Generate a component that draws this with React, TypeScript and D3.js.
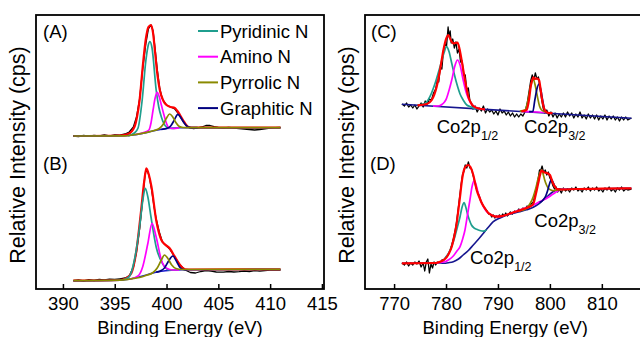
import { useEffect, useRef } from "react"
import * as d3 from "d3"

type Pt = [number, number]

// ---- N 1s panels (binding energy in eV, relative intensity in a.u.) ----
const nTicks = [390, 395, 400, 405, 410, 415]
const coTicks = [770, 780, 790, 800, 810]

const legendNames = ["Pyridinic N", "Amino N", "Pyrrolic N", "Graphitic N"]

// panel A
const aRaw: Pt[] = [
  [391, 153], [391.5, 152.5], [392, 153.5], [392.5, 152.8], [393, 153.6], [393.5, 153], [394, 154], [394.5, 153.2],
  [395, 154.2], [395.5, 153.8], [396, 155], [396.4, 157], [396.8, 162], [397.1, 172], [397.4, 190], [397.7, 220],
  [398.0, 245], [398.25, 260], [398.5, 264], [398.7, 258], [398.9, 240], [399.1, 220], [399.35, 200], [399.6, 190],
  [400.0, 184], [400.4, 182], [400.8, 180], [401.1, 176], [401.4, 171], [401.8, 165], [402.2, 161.5], [402.6, 160.5],
  [403.0, 161], [403.4, 162], [403.8, 163.5], [404.2, 163.5], [404.6, 162.3], [405.0, 161.5], [405.5, 161], [406, 161.5],
  [406.5, 161], [407, 160.5], [407.5, 160], [408, 159.5], [408.5, 159], [409, 159.5], [409.5, 160.2], [410, 161],
  [410.5, 161.3], [411, 161.5],
]
const aFit: Pt[] = [
  [391, 153], [395.5, 153.5], [396.3, 155], [396.9, 162], [397.15, 172], [397.4, 189], [397.7, 222], [398.0, 250],
  [398.25, 262], [398.5, 264], [398.7, 256], [398.9, 236], [399.1, 216], [399.35, 199], [399.7, 188], [400.0, 184],
  [400.4, 182], [400.8, 181], [401.05, 178], [401.3, 174], [401.7, 167], [402.1, 162], [402.6, 161.3], [411, 161.3],
]
const aPyridinic: Pt[] = [
  [396.3, 153.2], [396.9, 156], [397.25, 161], [397.65, 189], [398.0, 228], [398.2, 242], [398.4, 247.3], [398.6, 241],
  [399.0, 199], [399.25, 182], [399.5, 172], [400.0, 162], [400.5, 160.5], [401, 161],
]
const aAmino: Pt[] = [
  [397.0, 154.5], [397.8, 156.5], [398.3, 159], [398.5, 166], [398.7, 179], [398.9, 191], [399.1, 196.7], [399.3, 192],
  [399.5, 184], [399.7, 176], [399.95, 167], [400.2, 161.5], [400.6, 160.5], [401.2, 161],
]
const aPyrrolic: Pt[] = [
  [391, 153], [396.0, 153.2], [396.7, 154], [397.5, 155.3], [398.2, 156.8], [398.8, 158.5], [399.3, 160.5], [399.7, 165],
  [400.0, 171], [400.3, 175], [400.6, 172], [400.9, 166.5], [401.2, 162.8], [401.6, 161.5], [402.2, 161.3], [411, 161.3],
]
const aGraphitic: Pt[] = [
  [399.5, 159.5], [400.0, 160.5], [400.4, 163], [400.7, 168], [401.1, 174.7], [401.4, 171], [401.7, 166], [402.0, 162.5],
  [402.4, 161.3], [403, 161.3],
]
const aBackground: Pt[] = [
  [391, 153], [396, 153.2], [397, 154.3], [398, 156.3], [399, 158.8], [400, 160.5], [401, 161.1], [402, 161.3], [411, 161.3],
]

// panel B
const bRaw: Pt[] = [
  [391, 8.3], [391.5, 9], [392, 8], [392.5, 9.3], [393, 8.5], [393.5, 9.5], [394, 9], [394.5, 9.8], [395, 9.5],
  [395.5, 10.2], [396, 11], [396.4, 13], [396.8, 22], [397.1, 37], [397.4, 60], [397.7, 90], [397.9, 112], [398.05, 120],
  [398.3, 114], [398.55, 100], [398.8, 82], [399.0, 70], [399.3, 57], [399.6, 47], [399.9, 44], [400.3, 40], [400.8, 32],
  [401.3, 24], [401.8, 19], [402.3, 16.5], [402.8, 16], [403.3, 17.5], [403.8, 18.5], [404.3, 17.8], [404.8, 17],
  [405.5, 16.8], [406, 17.5], [406.5, 17], [407, 17.3], [407.5, 18], [408, 17.5], [408.5, 18.3], [409, 17.8],
  [409.5, 18.5], [410, 18.8], [410.5, 19], [411, 19],
]
const bFit: Pt[] = [
  [391, 8.3], [395.5, 9], [396.1, 10.7], [396.6, 15.7], [397.1, 39], [397.55, 79], [397.85, 108], [398.05, 120.7],
  [398.3, 114], [398.55, 102], [399.0, 69], [399.5, 49], [399.8, 45], [400.3, 40.7], [400.8, 32.3], [401.3, 24],
  [401.8, 19.7], [402.5, 19.5], [411, 19.7],
]
const bPyridinic: Pt[] = [
  [395.8, 9.2], [396.4, 12.3], [396.9, 29], [397.4, 62], [397.7, 88], [397.95, 100.7], [398.2, 92], [398.5, 72],
  [399.0, 42], [399.6, 25.7], [400.3, 19], [401, 19],
]
const bAmino: Pt[] = [
  [396.5, 10], [397.25, 13], [397.7, 22.3], [398.2, 45.7], [398.6, 65.7], [399.0, 52], [399.5, 29], [400.0, 20.7],
  [400.6, 19], [401.2, 19.2],
]
const bPyrrolic: Pt[] = [
  [391, 8.3], [395.5, 8.8], [396.5, 10], [397.4, 11.5], [398.0, 13.5], [398.7, 16.5], [399.1, 21], [399.5, 29],
  [399.8, 34], [400.1, 31], [400.5, 24], [400.9, 20.5], [401.5, 19.5], [411, 19.7],
]
const bGraphitic: Pt[] = [
  [399.0, 16.8], [399.4, 18], [399.8, 21], [400.2, 28], [400.6, 33], [401.0, 27], [401.3, 21.5], [401.6, 19.5], [402, 19.2],
]
const bBackground: Pt[] = [
  [391, 8.3], [395.5, 8.8], [396.5, 10], [397.5, 12.5], [398.5, 15.5], [399.5, 17.8], [400.5, 18.8], [401.5, 19.2], [411, 19.5],
]

// ---- Co 2p panels ----
// panel C
const cRaw: Pt[] = [
  [771.5, 185], [772.0, 183], [772.4, 186], [772.8, 182], [773.2, 184], [773.6, 181], [774.0, 184], [774.4, 180],
  [774.8, 183], [775.2, 186], [775.6, 182], [776.0, 188], [776.4, 185], [776.8, 190], [777.2, 189], [777.6, 196],
  [778.0, 200], [778.3, 208], [778.6, 207], [778.9, 222], [779.2, 220], [779.5, 238], [779.8, 245], [780.1, 243],
  [780.4, 262], [780.6, 252], [780.8, 258], [781.0, 246], [781.3, 250], [781.6, 241], [781.9, 247], [782.2, 236],
  [782.5, 240], [782.8, 227], [783.1, 228], [783.4, 214], [783.7, 214], [784.0, 199], [784.3, 201], [784.6, 188],
  [784.9, 186], [785.2, 180], [785.6, 183], [786.0, 177], [786.4, 181], [786.8, 178], [787.2, 183], [787.6, 176],
  [788.0, 180], [788.4, 177], [788.8, 179], [789.2, 175], [789.6, 178], [790.0, 174], [790.4, 180], [790.8, 176],
  [791.2, 178], [791.6, 174], [792.0, 177], [792.4, 173], [792.8, 176], [793.2, 172], [793.6, 175], [794.0, 172],
  [794.4, 175], [794.8, 173], [795.2, 177], [795.6, 185], [796.0, 198], [796.3, 208], [796.6, 214], [796.9, 209],
  [797.2, 216], [797.5, 210], [797.8, 212], [798.1, 200], [798.4, 190], [798.7, 181], [799.0, 176], [799.4, 179],
  [799.8, 173], [800.2, 177], [800.6, 172], [801.0, 176], [801.4, 171], [801.8, 175], [802.2, 172], [802.6, 176],
  [803.0, 172], [803.4, 177], [803.8, 173], [804.2, 176], [804.6, 171], [805.0, 175], [805.4, 172], [805.8, 177],
  [806.2, 171], [806.6, 174], [807.0, 170], [807.4, 175], [807.8, 171], [808.2, 174], [808.6, 170], [809.0, 174],
  [809.4, 169], [809.8, 173], [810.2, 170], [810.6, 174], [811.0, 169], [811.4, 173], [811.8, 170], [812.2, 173],
  [812.6, 169], [813.0, 172], [813.4, 168], [813.8, 172], [814.2, 169], [814.6, 172], [815.0, 169], [815.7, 171],
]
const cFit1: Pt[] = [
  [774.5, 183.7], [776.3, 185], [777.25, 189], [778.2, 202.3], [778.85, 219], [779.5, 239], [780.0, 250], [780.45, 254],
  [780.9, 249], [781.4, 245.7], [781.8, 246], [782.2, 246.3], [782.6, 240], [783.0, 229], [783.65, 209], [784.3, 192.3],
  [784.8, 186], [785.25, 183], [786.3, 180.5], [787.5, 179.7],
]
const cFit2: Pt[] = [
  [794.5, 177.6], [795.5, 179], [796.0, 190], [796.3, 202.3], [796.6, 209], [796.8, 211.7], [797.1, 210], [797.4, 210.7],
  [797.9, 209], [798.2, 200], [798.4, 192.3], [798.7, 184], [799.0, 179], [799.6, 176.2], [800.5, 175.8],
]
const cPeakTeal: Pt[] = [
  [774.5, 183.7], [776.0, 185.7], [776.9, 192.3], [777.9, 205.7], [778.85, 222.3], [779.6, 236], [780.1, 242.3],
  [780.6, 237], [781.1, 225.7], [782.05, 205.7], [782.7, 195], [783.3, 189], [784.0, 184], [784.6, 182.5],
  [785.5, 180.7], [786.5, 180.3],
]
const cPeakMagenta: Pt[] = [
  [777.5, 182.8], [778.5, 183], [779.2, 184.5], [779.7, 187], [780.1, 190.7], [780.6, 199], [781.1, 209], [781.7, 223],
  [782.2, 229], [782.7, 224], [783.3, 209], [783.8, 198], [784.3, 190.7], [784.9, 185], [785.6, 181.7], [786.5, 180.2],
  [787.5, 179.7],
]
const cPeakMagenta2: Pt[] = [[794.8, 177.5], [796, 177.3], [797.5, 177], [799.2, 176.5]]
const cPeakOlive: Pt[] = [
  [794.2, 177.9], [795.2, 179], [795.8, 189], [796.3, 203], [796.8, 209.7], [797.2, 203], [797.6, 192.3], [798.0, 183],
  [798.4, 179], [799.3, 176.5],
]
const cPeakNavy: Pt[] = [
  [796.0, 177.3], [796.7, 177.3], [797.1, 189], [797.5, 200], [797.9, 205], [798.3, 198], [798.6, 189], [799.0, 179],
  [799.5, 176.3],
]
const cBackground: Pt[] = [[771.5, 184.7], [815.7, 170.7]]

// panel D
const dRaw: Pt[] = [
  [771.5, 26], [772.0, 24], [772.4, 27], [772.8, 23], [773.2, 26], [773.6, 24], [774.0, 27], [774.4, 25], [774.8, 28],
  [775.2, 22], [775.6, 26], [775.9, 18], [776.2, 27], [776.5, 30], [776.8, 16], [777.1, 25], [777.4, 21], [777.7, 27],
  [778.0, 24], [778.4, 27], [778.8, 26], [779.2, 29], [779.6, 29], [780.0, 32], [780.4, 34], [780.8, 39], [781.1, 44],
  [781.4, 50], [781.7, 57], [782.0, 66], [782.3, 78], [782.6, 91], [782.9, 104], [783.2, 115], [783.4, 117],
  [783.7, 124], [784.0, 121], [784.3, 127], [784.6, 121], [784.9, 120], [785.2, 114], [785.5, 108], [785.8, 101],
  [786.1, 97], [786.4, 93], [786.7, 88], [787.0, 85], [787.3, 82], [787.6, 80], [787.9, 78], [788.2, 75], [788.5, 75],
  [788.8, 72], [789.1, 74], [789.4, 71], [789.7, 73], [790.0, 72], [790.3, 74], [790.6, 72], [790.9, 75], [791.2, 73],
  [791.5, 76], [791.8, 73], [792.1, 75], [792.4, 77], [792.8, 75], [793.2, 78], [793.6, 77], [794.0, 80], [794.4, 78],
  [794.8, 81], [795.2, 80], [795.6, 83], [796.0, 82], [796.4, 85], [796.8, 87], [797.1, 93], [797.4, 101], [797.7, 109],
  [798.0, 119], [798.2, 118], [798.5, 123], [798.8, 116], [799.1, 119], [799.4, 114], [799.7, 117], [800.0, 111],
  [800.3, 108], [800.6, 103], [800.9, 100], [801.2, 102], [801.5, 97], [801.8, 100], [802.2, 96],
  [802.6, 101], [803.0, 98], [803.4, 100], [803.8, 97], [804.2, 101], [804.6, 99], [805.0, 102], [805.4, 98],
  [805.8, 100], [806.2, 97], [806.6, 101], [807.0, 99], [807.4, 102], [807.8, 98], [808.2, 101], [808.6, 99],
  [809.0, 102], [809.4, 98], [809.8, 100], [810.2, 97], [810.6, 101], [811.0, 99], [811.4, 102], [811.8, 98],
  [812.2, 100], [812.6, 97], [813.0, 101], [813.4, 99], [813.8, 102], [814.2, 98], [814.6, 100], [815.0, 99], [815.7, 100],
]
const dFit: Pt[] = [
  [771.5, 25.7], [778.0, 26], [778.9, 27.3], [779.5, 28.8], [780.1, 31.7], [780.6, 36], [781.1, 42.3], [781.6, 53],
  [782.05, 65.7], [782.4, 80], [782.7, 92.3], [783.0, 106], [783.3, 115.7], [783.6, 121], [784.0, 123.5], [784.3, 124],
  [784.7, 122], [785.25, 114], [785.6, 106], [785.9, 99], [786.4, 92], [786.9, 85.7], [787.5, 80.5], [788.1, 76.3],
  [788.9, 73.5], [789.75, 72.3], [790.7, 72.8], [791.7, 74.3], [792.9, 76.5], [794.2, 78.6], [795.5, 81], [796.2, 82.5],
  [796.8, 85], [797.3, 95], [797.75, 105.7], [798.1, 114], [798.4, 118.3], [798.8, 117], [799.2, 116.3], [799.6, 115.5],
  [800.0, 114], [800.3, 110], [800.6, 105.7], [801.0, 102], [801.4, 99.9], [802.2, 99.5], [805, 100], [810, 100.3],
  [815.7, 100.7],
]
const dPeakTeal: Pt[] = [
  [778.0, 25.9], [778.9, 26.3], [779.8, 30.7], [780.8, 39], [781.7, 52.3], [782.2, 62], [782.7, 72.3], [783.1, 82],
  [783.5, 86.3], [783.8, 82], [784.1, 75.7], [784.5, 69], [784.9, 64], [785.4, 61], [785.9, 59.7], [786.5, 58.5],
  [787.2, 57.8], [787.8, 59.3],
]
const dPeakMagenta: Pt[] = [
  [778.0, 25.9], [779.8, 27.3], [780.6, 29.5], [781.4, 33], [782.1, 38], [782.7, 42.3], [783.2, 50], [783.65, 59],
  [784.1, 73], [784.6, 89], [785.0, 102], [785.4, 108.3], [785.8, 104], [786.2, 95.7], [786.7, 88], [787.2, 82.3],
  [787.8, 77.5], [788.5, 74.7], [789.1, 73], [789.75, 72.3], [790.7, 72.8], [791.7, 74.3], [792.9, 76.5], [794.2, 79],
  [795.5, 81.5], [796.8, 84], [798.1, 87.5], [799.4, 90.7], [800.2, 93.5], [801.0, 96.3], [801.9, 99.1], [803, 99.8],
]
const dPeakOlive: Pt[] = [
  [794.0, 78], [795.0, 79.2], [795.5, 80.7], [796.2, 85.5], [796.8, 92.3], [797.3, 101], [797.75, 110.7], [798.1, 116.5],
  [798.4, 119], [798.7, 115], [799.0, 109], [799.35, 104], [799.7, 100.7], [800.2, 99], [800.6, 98.3], [801.2, 98.8],
  [802, 99.3], [803, 99.5],
]
const dPeakNavy: Pt[] = [
  [798.0, 86.5], [798.7, 89], [799.2, 93], [799.6, 99], [799.95, 105.5], [800.3, 109.7], [800.7, 105.5], [801.1, 101.5],
  [801.6, 99.7], [802.2, 99.6],
]
const dBackground: Pt[] = [
  [771.5, 25.7], [779.5, 25.7], [780.5, 26.3], [781.4, 27.3], [782.4, 30], [783.3, 34], [784.3, 38.5], [785.25, 44],
  [786.2, 49.5], [787.2, 55.7], [788.1, 61.5], [789.1, 67.3], [790.4, 71], [791.7, 74], [793, 75.8], [794.2, 77.3],
  [795.5, 79.2], [796.8, 81.7], [797.8, 85], [798.7, 89], [799.7, 93.5], [800.6, 97.3], [801.3, 99], [801.9, 99.7],
  [805, 100], [810, 100.3], [815.7, 100.7],
]

// peak labels: [binding energy, intensity, sub]
const coLabels: { e: number; v: number; sub: string }[] = [
  { e: 778.2, v: 156.3, sub: "1/2" },
  { e: 795.0, v: 156.3, sub: "3/2" },
  { e: 797.0, v: 61.7, sub: "3/2" },
  { e: 784.6, v: 24.7, sub: "1/2" },
]

const FONT = "'Liberation Sans', Arial, Helvetica, sans-serif"
const RED = "#ff0000"
const TEAL = "#1f9e8e"
const MAGENTA = "#ff00ff"
const OLIVE = "#8a8a00"
const NAVY = "#00007f"
const BG_N = "#1a1ad0"
const BG_CO = "#16168f"

export default function App() {
  const svgRef = useRef<SVGSVGElement>(null)

  useEffect(() => {
    if (!svgRef.current) return
    const svg = d3.select(svgRef.current)
    svg.selectAll("*").remove()

    const top = 15
    const bottom = 289

    const y = d3.scaleLinear().domain([0, 274]).range([bottom, top])
    const xN = d3.scaleLinear().domain([387.4, 415.2]).range([36, 324])
    const xCo = d3.scaleLinear().domain([764.4, 821.2]).range([365, 660])

    const drawLine = (x: d3.ScaleLinear<number, number>, pts: Pt[], color: string, w: number, smooth = true) => {
      const line = d3
        .line<Pt>()
        .x((d) => x(d[0]))
        .y((d) => y(d[1]))
        .curve(smooth ? d3.curveMonotoneX : d3.curveLinear)
      svg.append("path").datum(pts).attr("fill", "none").attr("stroke", color).attr("stroke-width", w)
        .attr("stroke-linejoin", "round").attr("d", line)
    }

    // frame, ticks and titles; titleE = energy at the centre of the x title
    const drawFrame = (x: d3.ScaleLinear<number, number>, ticks: number[], titleE: number) => {
      const [x0, x1] = x.range()
      svg.append("rect").attr("x", x0).attr("y", top).attr("width", x1 - x0).attr("height", bottom - top)
        .attr("fill", "none").attr("stroke", "#000").attr("stroke-width", 1.8)

      const ax = svg.append("g")
        .attr("transform", `translate(0,${bottom})`)
        .call(d3.axisBottom(x).tickValues(ticks).tickSizeInner(-5).tickSizeOuter(0).tickPadding(8))
      ax.select(".domain").remove()
      ax.selectAll("line").attr("stroke-width", 1.5)
      ax.selectAll("text").attr("font-family", FONT).attr("font-size", 18.5).attr("fill", "#000")

      svg.append("text")
        .attr("x", x(titleE))
        .attr("y", 334)
        .attr("text-anchor", "middle")
        .attr("font-family", FONT).attr("font-size", 18.5)
        .text("Binding Energy (eV)")

      svg.append("text")
        .attr("transform", `translate(${x0 - 11},${(top + bottom) / 2 + 3}) rotate(-90)`)
        .attr("text-anchor", "middle")
        .attr("font-family", FONT).attr("font-size", 21.5)
        .text("Relative Intensity (cps)")
    }

    const panelLabel = (x: number, yy: number, t: string) => {
      svg.append("text").attr("x", x).attr("y", yy).attr("font-family", FONT).attr("font-size", 18.5).text(t)
    }

    // ---- left: N 1s ----
    drawLine(xN, aRaw, "#000", 1.3, false)
    drawLine(xN, aFit, RED, 2.2)
    drawLine(xN, aBackground, BG_N, 1.4)
    drawLine(xN, aPyridinic, TEAL, 1.7)
    drawLine(xN, aAmino, MAGENTA, 1.7)
    drawLine(xN, aGraphitic, NAVY, 1.7)
    drawLine(xN, aPyrrolic, OLIVE, 1.7)

    drawLine(xN, bRaw, "#000", 1.3, false)
    drawLine(xN, bFit, RED, 2.2)
    drawLine(xN, bBackground, BG_N, 1.4)
    drawLine(xN, bPyridinic, TEAL, 1.7)
    drawLine(xN, bAmino, MAGENTA, 1.7)
    drawLine(xN, bGraphitic, NAVY, 1.7)
    drawLine(xN, bPyrrolic, OLIVE, 1.7)

    drawFrame(xN, nTicks, 401.3)
    panelLabel(43, 38, "(A)")
    panelLabel(43, 170, "(B)")

    // legend
    const legendColors = [TEAL, MAGENTA, OLIVE, NAVY]
    legendNames.forEach((name, i) => {
      const by = 37.5 + i * 25.7
      svg.append("line").attr("x1", 198).attr("x2", 218).attr("y1", by - 6.5).attr("y2", by - 6.5)
        .attr("stroke", legendColors[i]).attr("stroke-width", 2)
      svg.append("text").attr("x", 220).attr("y", by).attr("font-family", FONT).attr("font-size", 18.5).text(name)
    })

    // ---- right: Co 2p ----
    drawLine(xCo, cRaw, "#000", 1.3, false)
    drawLine(xCo, cBackground, BG_CO, 1.6)
    drawLine(xCo, cPeakTeal, TEAL, 1.7)
    drawLine(xCo, cPeakMagenta, MAGENTA, 1.7)
    drawLine(xCo, cPeakMagenta2, MAGENTA, 1.7)
    drawLine(xCo, cPeakOlive, OLIVE, 1.7)
    drawLine(xCo, cPeakNavy, NAVY, 1.7)
    drawLine(xCo, cFit1, RED, 2.2)
    drawLine(xCo, cFit2, RED, 2.2)

    drawLine(xCo, dRaw, "#000", 1.3, false)
    drawLine(xCo, dBackground, BG_CO, 1.6)
    drawLine(xCo, dPeakTeal, TEAL, 1.7)
    drawLine(xCo, dPeakMagenta, MAGENTA, 1.7)
    drawLine(xCo, dPeakOlive, OLIVE, 1.7)
    drawLine(xCo, dPeakNavy, NAVY, 1.7)
    drawLine(xCo, dFit, RED, 2.2)

    drawFrame(xCo, coTicks, 791.4)
    panelLabel(371, 38, "(C)")
    panelLabel(370, 170, "(D)")

    coLabels.forEach((l) => {
      const t = svg.append("text").attr("x", xCo(l.e)).attr("y", y(l.v))
        .attr("font-family", FONT).attr("font-size", 18.5)
      t.append("tspan").text("Co2p")
      t.append("tspan").attr("font-size", 12.5).attr("dy", 7).text(l.sub)
    })
  }, [])

  return (
    <svg
      ref={svgRef}
      width={640}
      height={337}
      style={{ position: "absolute", left: 0, top: 0, background: "#fff" }}
    />
  )
}
